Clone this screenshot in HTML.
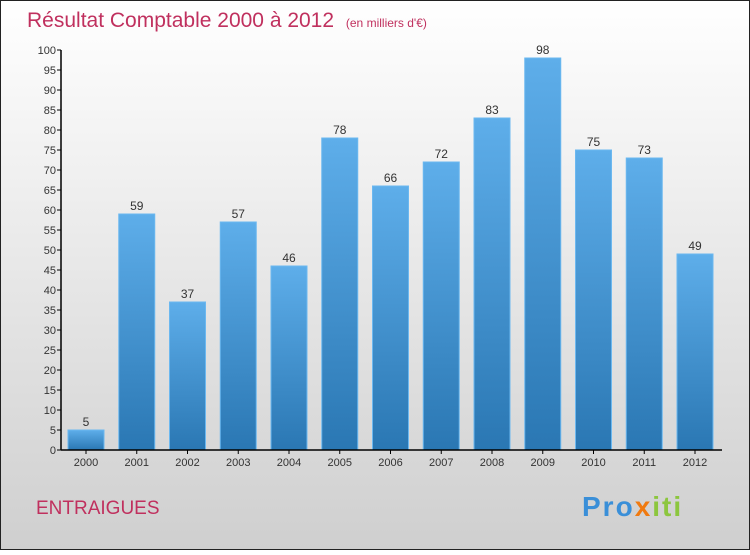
<!DOCTYPE html>
<html><head><meta charset="utf-8"><style>
body{margin:0;width:750px;height:550px;overflow:hidden;font-family:"Liberation Sans",sans-serif}
</style></head><body>
<svg width="750" height="550" viewBox="0 0 750 550">
<defs>
<linearGradient id="bg" x1="0" y1="0" x2="0" y2="1"><stop offset="0" stop-color="#ffffff"/><stop offset="1" stop-color="#cfcfcf"/></linearGradient>
<linearGradient id="bar" x1="0" y1="0" x2="0" y2="1"><stop offset="0" stop-color="#5eaeea"/><stop offset="1" stop-color="#2a77b3"/></linearGradient>
</defs>
<rect x="0.5" y="0.5" width="749" height="549" fill="url(#bg)" stroke="#222"/>
<text x="27" y="27" font-size="21" fill="#c0305e">Résultat Comptable 2000 à 2012 <tspan font-size="12" dx="6">(en milliers d'€)</tspan></text>
<text x="36" y="514" font-size="19" fill="#c0305e">ENTRAIGUES</text>
<text x="582" y="516" font-size="28" font-weight="bold" letter-spacing="2"><tspan fill="#3a8fd8">Pro</tspan><tspan fill="#f07a10">x</tspan><tspan fill="#8cc63e">iti</tspan></text>
<g id="yaxis"></g>
<g id="bars"></g>
<g id="xaxis"></g>
</svg>
<script>
const categories=["2000","2001","2002","2003","2004","2005","2006","2007","2008","2009","2010","2011","2012"];
const values=[5,59,37,57,46,78,66,72,83,98,75,73,49];
const yTicks=[0,5,10,15,20,25,30,35,40,45,50,55,60,65,70,75,80,85,90,95,100];
const NS="http://www.w3.org/2000/svg";
const y=v=>450-v*4;
const x=i=>86+i*50.75;
function mk(t,a,p){const e=document.createElementNS(NS,t);for(const k in a)e.setAttribute(k,a[k]);p.appendChild(e);return e;}
const ya=document.getElementById('yaxis'),ba=document.getElementById('bars'),xa=document.getElementById('xaxis');
mk('line',{x1:61,y1:50,x2:61,y2:450,stroke:'#000','stroke-width':1.5},ya);
yTicks.forEach(v=>{
  mk('line',{x1:57,y1:y(v),x2:61,y2:y(v),stroke:'#000'},ya);
  const t=mk('text',{x:56,y:y(v)+4,'font-size':11,'text-anchor':'end',fill:'#333'},ya);
  
  
  t.textContent=v;
});
mk('line',{x1:61,y1:450,x2:722,y2:450,stroke:'#000','stroke-width':1.5},xa);
categories.forEach((c,i)=>{
  const r=mk('rect',{x:x(i)-18,y:y(values[i]),width:36,height:values[i]*4,fill:'url(#bar)',stroke:'#6bb8f0','stroke-width':1},ba);
  
  
  const l=mk('text',{x:x(i),y:y(values[i])-4,'font-size':12,'text-anchor':'middle',fill:'#333'},ba);
  
  
  l.textContent=values[i];
  mk('line',{x1:x(i),y1:450,x2:x(i),y2:454,stroke:'#000'},xa);
  const t=mk('text',{x:x(i),y:466,'font-size':11,'text-anchor':'middle',fill:'#333'},xa);
  
  
  t.textContent=c;
});
</script>
</body></html>
